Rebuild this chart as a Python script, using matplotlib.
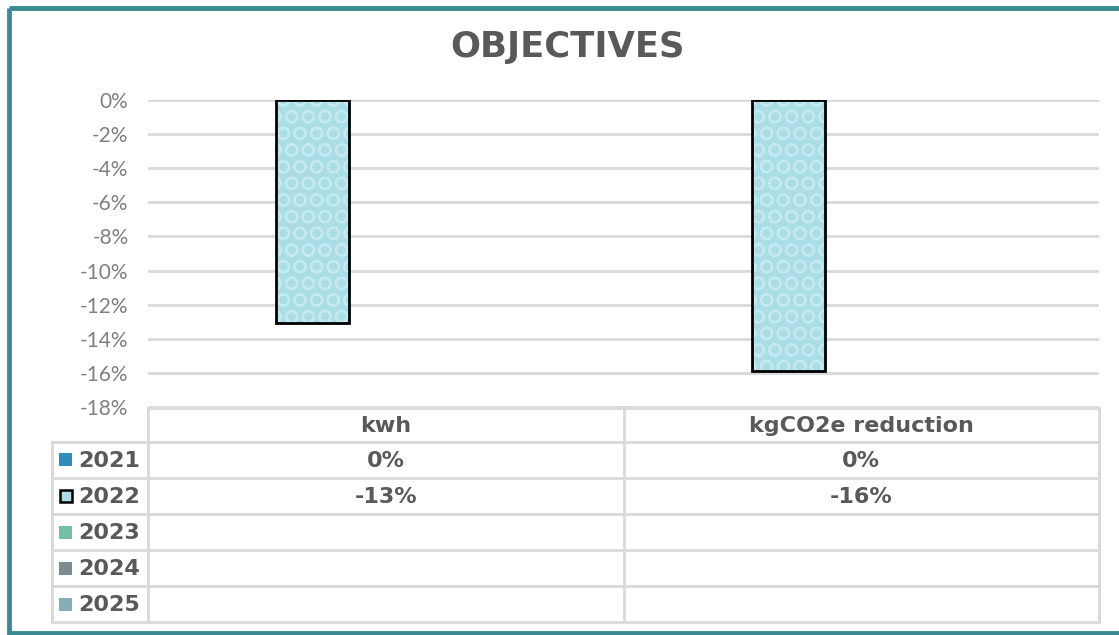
import matplotlib
matplotlib.use("Agg")
import matplotlib.pyplot as plt
from matplotlib.patches import Rectangle
from matplotlib.lines import Line2D
import numpy as np

# ---- data ----
categories = ["kwh", "kgCO2e reduction"]
years = ["2021", "2022", "2023", "2024", "2025"]
values_2021 = [0.0, 0.0]
values_2022 = [-0.131, -0.159]
values_2023 = [None, None]
values_2024 = [None, None]
values_2025 = [None, None]
series_values = [values_2021, values_2022, values_2023, values_2024, values_2025]
y_ticks = [0, -0.02, -0.04, -0.06, -0.08, -0.10, -0.12, -0.14, -0.16, -0.18]

# ---- style ----
series_colors = ["#2E8DB9", "#AADDE6", "#72C1A4", "#7C8C8E", "#86AEB9"]
text_dark = "#595959"
grid_color = "#D9D9D9"
border_color = "#3A8C92"

W, H = 1119, 635
fig = plt.figure(figsize=(W / 100, H / 100), dpi=100)
fig.patch.set_facecolor("white")

# plot area in pixel coordinates
px_left, px_right = 148, 1099
px_top, px_bottom = 100, 407
ax = fig.add_axes([px_left / W, 1 - px_bottom / H,
                   (px_right - px_left) / W, (px_bottom - px_top) / H])
ax.set_xlim(-0.5, len(categories) - 0.5)
ax.set_ylim(-0.18, 0)
ax.set_yticks(y_ticks)
ax.set_yticklabels([f"{t:.0%}" for t in y_ticks],
                   family="Lato", fontsize=15, color="#808080")
ax.tick_params(axis="y", length=0, pad=14)
ax.set_xticks([])
for s in ax.spines.values():
    s.set_visible(False)
ax.yaxis.grid(True, color=grid_color, linewidth=2)
ax.set_axisbelow(True)

# clustered columns: five series per category
bar_w = 0.1535
x = np.arange(len(categories))
for i, (vals, col) in enumerate(zip(series_values, series_colors)):
    heights = [np.nan if v is None else v for v in vals]
    pos = x + (i - 2) * bar_w
    if i == 1:
        plt.rcParams["hatch.linewidth"] = 1.5
        ax.bar(pos, heights, width=bar_w, color=col, linewidth=0, zorder=2)
        ax.bar(pos, heights, width=bar_w, facecolor="none", edgecolor="#C4EAF0",
               hatch="O", linewidth=0, zorder=3)
        ax.bar(pos, heights, width=bar_w, facecolor="none", edgecolor="black",
               linewidth=2, zorder=4)
    else:
        ax.bar(pos, heights, width=bar_w, color=col, linewidth=0, zorder=2)

# overlay in pixel coordinates for title, data table and frame
ov = fig.add_axes([0, 0, 1, 1], facecolor="none")
ov.set_xlim(0, W)
ov.set_ylim(H, 0)
ov.axis("off")

ov.text(567, 47, "OBJECTIVES", ha="center", va="center", fontsize=25.5,
        fontweight="bold", family="DejaVu Sans", color=text_dark)

# data table grid
tbl_left, tbl_head, tbl_right = 51.5, 148, 1099
col_div = 623.5
row_lines = [408, 441.5, 478, 514, 550, 586, 622]
lw = 2
ov.add_line(Line2D([tbl_head, tbl_right], [row_lines[0]] * 2, color=grid_color, lw=lw))
for y in row_lines[1:]:
    ov.add_line(Line2D([tbl_left, tbl_right], [y, y], color=grid_color, lw=lw))
ov.add_line(Line2D([tbl_left, tbl_left], [row_lines[1], row_lines[-1]], color=grid_color, lw=lw))
for xv in [tbl_head, col_div, tbl_right]:
    ov.add_line(Line2D([xv, xv], [row_lines[0], row_lines[-1]], color=grid_color, lw=lw))

col_centers = [(tbl_head + col_div) / 2, (col_div + tbl_right) / 2]
head_y = (row_lines[0] + row_lines[1]) / 2
cell_font = dict(fontsize=16, fontweight="bold", family="DejaVu Sans", color=text_dark)
for cx, cat in zip(col_centers, categories):
    ov.text(cx, head_y + 1, cat, ha="center", va="center", **cell_font)

for r, (yr, vals, col) in enumerate(zip(years, series_values, series_colors)):
    cy = (row_lines[r + 1] + row_lines[r + 2]) / 2
    if r == 1:
        ov.add_patch(Rectangle((59.5, cy - 6), 12, 12, facecolor=col,
                               edgecolor="black", linewidth=1.8))
    else:
        ov.add_patch(Rectangle((59, cy - 6.5), 13, 13, facecolor=col, edgecolor="none"))
    ov.text(78, cy + 1, yr, ha="left", va="center", **cell_font)
    for cx, v in zip(col_centers, vals):
        if v is not None:
            ov.text(cx, cy + 1, f"{v:.0%}", ha="center", va="center", **cell_font)

# outer frame
ov.add_patch(Rectangle((8.5, 7.5), 1125, 625.5, facecolor="none",
                       edgecolor=border_color, linewidth=3.5, clip_on=True))

fig.savefig("out.png", dpi=100)
